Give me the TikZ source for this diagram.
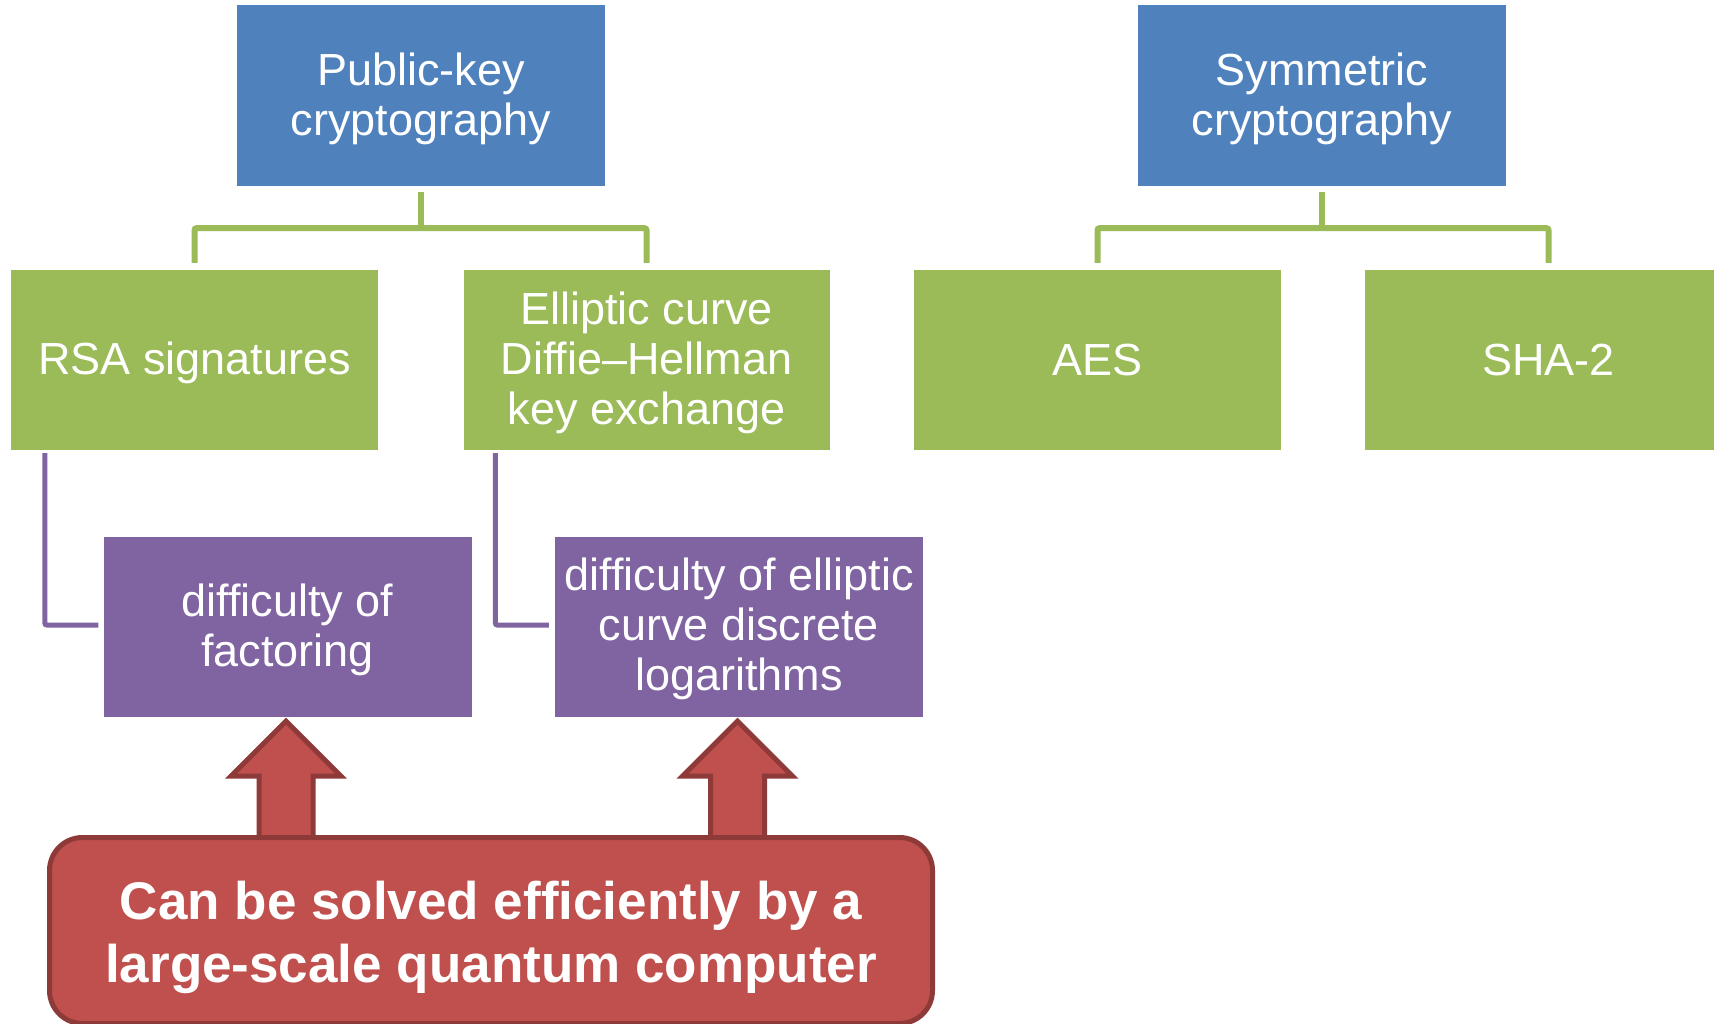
\documentclass[tikz,border=0pt]{standalone}
\usepackage{fontspec}
\setmainfont{Liberation Sans}
\usetikzlibrary{calc}
\definecolor{hdblue}{HTML}{4F81BD}
\definecolor{itgreen}{HTML}{9BBB59}
\definecolor{hardpurple}{HTML}{8064A2}
\definecolor{warnred}{HTML}{C0504D}
\definecolor{warnedge}{HTML}{8E3A38}
% invisible strut that lowers a node's text a little
\newcommand\liftline[1]{\rule{0pt}{#1}}
\tikzset{
  x=1pt, y=1pt,
  cbox/.style={rectangle, inner sep=0pt, text=white, align=center,
    font=\fontsize{45}{50}\selectfont},
  headbox/.style={cbox, fill=hdblue, minimum width=368, minimum height=181},
  algbox/.style={cbox, fill=itgreen, minimum width=367, minimum height=180},
  hardbox/.style={cbox, fill=hardpurple, minimum width=368, minimum height=180},
  gline/.style={draw=itgreen, line width=6pt, rounded corners=2pt},
  pline/.style={draw=hardpurple, line width=5pt, rounded corners=2pt},
  blockarrow/.style={fill=warnred, draw=warnedge, line width=5pt, line join=miter},
  warnbox/.style={cbox, fill=warnred, draw=warnedge, line width=5pt,
    rounded corners=33pt, minimum width=883, minimum height=186,
    font=\bfseries\fontsize{53}{63}\selectfont},
}
\begin{document}
\begin{tikzpicture}
\useasboundingbox (0,0) rectangle (1714,-1024);
\begin{scope}
\clip (0,0) rectangle (1714,-1024);

% category headers
\node[headbox] (pk)  at (421,-95.5)  {\liftline{39pt}Public-key\\cryptography};
\node[headbox] (sym) at (1322,-95.5) {\liftline{39pt}Symmetric\\cryptography};

% algorithms
\node[algbox] (rsa)  at (194.5,-360)  {\liftline{39pt}RSA signatures};
\node[algbox, minimum width=366] (ecdh) at (646.5,-360) {\liftline{39pt}Elliptic curve\\Diffie–Hellman\\key exchange};
\node[algbox] (aes)  at (1097.5,-360) {AES};
\node[algbox] (sha)  at (1548.5,-360) {SHA-2};

% hardness assumptions
\node[hardbox] (fac)   at (287.5,-627) {\liftline{39pt}difficulty of\\factoring};
\node[hardbox] (ecdlp) at (739,-627)   {\liftline{37pt}difficulty of elliptic\\curve discrete\\logarithms};

% tree connectors
\draw[gline] ([yshift=-6]pk.south) -- ++(0,-36) coordinate (pkj);
\draw[gline] ([yshift=7]rsa.north) |- (pkj) -| ([yshift=7]ecdh.north);
\draw[gline] ([yshift=-6]sym.south) -- ++(0,-36) coordinate (symj);
\draw[gline] ([yshift=7]aes.north) |- (symj) -| ([yshift=7]sha.north);

\draw[pline] ([shift={(34,-3)}]rsa.south west) |- ([shift={(-5,2)}]fac.west);
\draw[pline] ([shift={(32,-3)}]ecdh.south west) |- ([shift={(-6,2)}]ecdlp.west);

% block arrows pointing up at the hard problems
\foreach \t in {fac, ecdlp} {
  \draw[blockarrow] ($(\t.south)+(-1.5,-4)$) -- ++(55,-55) -- ++(-28,0)
    -- ++(0,-63) -- ++(-54,0) -- ++(0,63) -- ++(-28,0) -- cycle;
}

\node[warnbox] (quantum) at (491,-930.5)
  {\liftline{53pt}Can be solved efficiently by a\\large-scale quantum computer};
\end{scope}
\end{tikzpicture}
\end{document}
